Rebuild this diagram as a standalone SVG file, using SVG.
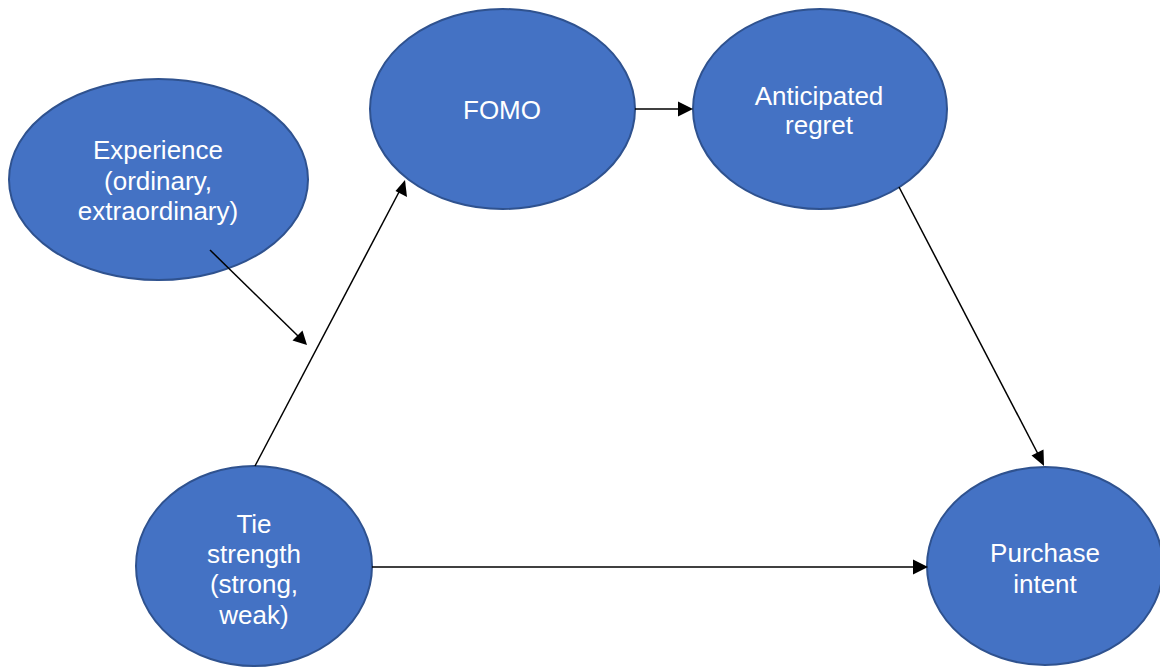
<svg xmlns="http://www.w3.org/2000/svg" width="1160" height="667" viewBox="0 0 1160 667">
<style>
.node ellipse{fill:#4472C4;stroke:#2F528F;stroke-width:2}
.node text{fill:#fff;font-family:"Liberation Sans",Arial,sans-serif;font-size:26px;text-anchor:middle}
.edges line{stroke:#000;stroke-width:1.5}
.edges path{fill:#000}
</style>
<rect width="1160" height="667" fill="#fff"/>
<g id="experience" class="node">
<ellipse cx="158.5" cy="179.5" rx="149.5" ry="100.5"/>
<text x="158" y="159">Experience</text>
<text x="158" y="189.5">(ordinary,</text>
<text x="158" y="220">extraordinary)</text>
</g>
<g id="fomo" class="node">
<ellipse cx="502.5" cy="109" rx="132.5" ry="100"/>
<text x="502" y="119">FOMO</text>
</g>
<g id="anticipated-regret" class="node">
<ellipse cx="820" cy="109" rx="127" ry="100"/>
<text x="819" y="105">Anticipated</text>
<text x="819" y="134">regret</text>
</g>
<g id="tie-strength" class="node">
<ellipse cx="254" cy="566" rx="118" ry="100"/>
<text x="254" y="533">Tie</text>
<text x="254" y="563">strength</text>
<text x="254" y="593">(strong,</text>
<text x="254" y="624">weak)</text>
</g>
<g id="purchase-intent" class="node">
<ellipse cx="1045" cy="566" rx="118" ry="99"/>
<text x="1045" y="562">Purchase</text>
<text x="1045" y="593">intent</text>
</g>
<g class="edges">
<line x1="210" y1="250" x2="298" y2="336"/>
<path d="M307,345 L292.5,340.5 L302.5,330.5 Z"/>
<line x1="255" y1="466" x2="399" y2="192"/>
<path d="M405,180 L407,197 L395.5,191 Z"/>
<line x1="635" y1="109" x2="680" y2="109"/>
<path d="M693,109 L678,101.5 L678,116.5 Z"/>
<line x1="899" y1="187" x2="1038" y2="454"/>
<path d="M1044,466 L1031.5,455.5 L1043.5,449.5 Z"/>
<line x1="372" y1="567" x2="914" y2="567"/>
<path d="M928,567 L913,559.5 L913,574.5 Z"/>
</g>
</svg>
